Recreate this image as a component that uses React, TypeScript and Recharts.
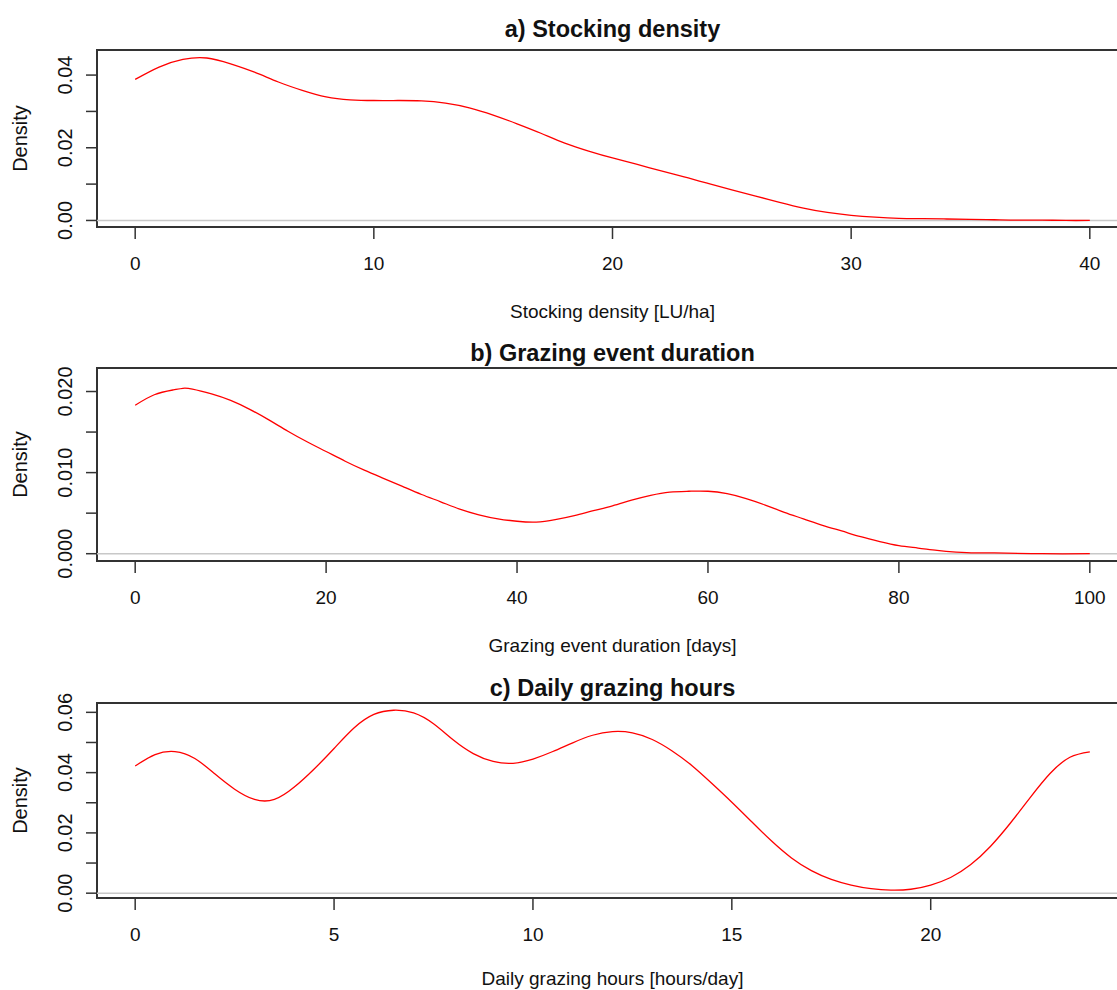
import React from "react";
import {
  LineChart,
  Line,
  XAxis,
  YAxis,
  ReferenceArea,
  ReferenceLine,
} from "recharts";

// a) Stocking density [LU/ha]
const stockX = [
  0, 1, 2, 3, 4, 5, 6, 7, 8, 9, 10, 11, 12, 13, 14, 15, 16, 17, 18, 19, 20,
  21, 22, 23, 24, 25, 26, 27, 28, 29, 30, 31, 32, 33, 34, 35, 36, 37, 38, 39, 40,
];
const stockD = [
  0.0388, 0.0422, 0.0443, 0.0447, 0.0431, 0.0408, 0.0381, 0.0358, 0.034,
  0.0332, 0.033, 0.033, 0.0329, 0.0323, 0.031, 0.029, 0.0266, 0.024, 0.0213,
  0.0191, 0.0172, 0.0155, 0.0137, 0.012, 0.0102, 0.0084, 0.0067, 0.005, 0.0034,
  0.0022, 0.0014, 0.0009, 0.0006, 0.0005, 0.0004, 0.0003, 0.0002, 0.0001,
  0.0001, 0.0, 0.0,
];

// b) Grazing event duration [days]
const durX = [
  0, 2, 4, 5, 6, 8, 10, 12, 14, 16, 18, 20, 22, 24, 26, 28, 30, 32, 34, 36, 38,
  40, 42, 44, 46, 48, 50, 52, 54, 56, 58, 60, 62, 64, 66, 68, 70, 72, 74, 76,
  78, 80, 82, 84, 86, 88, 90, 95, 100,
];
const durD = [
  0.0183, 0.0196, 0.0202, 0.0204, 0.0203, 0.0197, 0.0189, 0.0178, 0.0165,
  0.0151, 0.0138, 0.0126, 0.0114, 0.0103, 0.0093, 0.0083, 0.0073, 0.0064,
  0.0055, 0.0048, 0.0043, 0.004, 0.0039, 0.0042, 0.0047, 0.0053, 0.0059,
  0.0066, 0.0072, 0.0076, 0.0077, 0.0077, 0.0074, 0.0068, 0.006, 0.0051,
  0.0043, 0.0035, 0.0028, 0.0021, 0.0015, 0.001, 0.0007, 0.0004, 0.0002,
  0.0001, 0.0001, 0.0, 0.0,
];

// c) Daily grazing hours [hours/day]
const hoursX = [
  0, 0.5, 1, 1.5, 2, 2.5, 3, 3.5, 4, 4.5, 5, 5.5, 6, 6.5, 7, 7.5, 8, 8.5, 9,
  9.5, 10, 10.5, 11, 11.5, 12, 12.5, 13, 13.5, 14, 14.5, 15, 15.5, 16, 16.5,
  17, 17.5, 18, 18.5, 19, 19.5, 20, 20.5, 21, 21.5, 22, 22.5, 23, 23.5, 24,
];
const hoursD = [
  0.0422, 0.046, 0.047, 0.0447, 0.0396, 0.0345, 0.0311, 0.0311, 0.0352, 0.0412,
  0.048, 0.0548, 0.0593, 0.0607, 0.0598, 0.0562, 0.0508, 0.0463, 0.0437,
  0.0431, 0.0445, 0.047, 0.0499, 0.0524, 0.0536, 0.0532, 0.051, 0.0472,
  0.0423, 0.0364, 0.0302, 0.0237, 0.0173, 0.0117, 0.0075, 0.0046, 0.0027,
  0.0015, 0.001, 0.0013, 0.0027, 0.0052, 0.0094, 0.0155, 0.0232, 0.0317,
  0.0397, 0.0451, 0.0469,
];

const FONT = "'Liberation Sans', Arial, sans-serif";
const CHART_W = 1140;
const PLOT_LEFT = 97;
const PLOT_RIGHT = 1128;
const X_AXIS_H = 60;

type Panel = {
  title: string;
  xLabel: string;
  xs: number[];
  ds: number[];
  xDomain: [number, number];
  yDomain: [number, number];
  xTicks: number[];
  yTicks: number[];
  yLabels: Record<string, string>;
  chartTop: number;
  boxTop: number;
  boxBottom: number;
  titleY: number;
  xLabelY: number;
};

const panels: Panel[] = [
  {
    title: "a) Stocking density",
    xLabel: "Stocking density [LU/ha]",
    xs: stockX,
    ds: stockD,
    xDomain: [-1.6, 41.6],
    yDomain: [-0.0018, 0.0469],
    xTicks: [0, 10, 20, 30, 40],
    yTicks: [0, 0.01, 0.02, 0.03, 0.04],
    yLabels: { "0": "0.00", "0.02": "0.02", "0.04": "0.04" },
    chartTop: 0,
    boxTop: 50,
    boxBottom: 227,
    titleY: 37,
    xLabelY: 318,
  },
  {
    title: "b) Grazing event duration",
    xLabel: "Grazing event duration [days]",
    xs: durX,
    ds: durD,
    xDomain: [-4, 104],
    yDomain: [-0.0009, 0.0229],
    xTicks: [0, 20, 40, 60, 80, 100],
    yTicks: [0, 0.005, 0.01, 0.015, 0.02],
    yLabels: { "0": "0.000", "0.01": "0.010", "0.02": "0.020" },
    chartTop: 330,
    boxTop: 368,
    boxBottom: 561,
    titleY: 361,
    xLabelY: 652,
  },
  {
    title: "c) Daily grazing hours",
    xLabel: "Daily grazing hours [hours/day]",
    xs: hoursX,
    ds: hoursD,
    xDomain: [-0.96, 24.96],
    yDomain: [-0.0016, 0.0631],
    xTicks: [0, 5, 10, 15, 20],
    yTicks: [0, 0.01, 0.02, 0.03, 0.04, 0.05, 0.06],
    yLabels: { "0": "0.00", "0.02": "0.02", "0.04": "0.04", "0.06": "0.06" },
    chartTop: 660,
    boxTop: 703,
    boxBottom: 898,
    titleY: 696,
    xLabelY: 985,
  },
];

function DensityPanel({ p }: { p: Panel }) {
  const data = p.xs.map((x, i) => ({ x, d: p.ds[i] }));
  const height = p.boxBottom - p.chartTop + X_AXIS_H;
  const tickBase = p.boxBottom - p.chartTop + 43;

  const XTick = (props: any) => (
    <text
      x={props.x}
      y={tickBase}
      textAnchor="middle"
      fontFamily={FONT}
      fontSize={19}
      fill="#111"
    >
      {props.payload.value}
    </text>
  );

  const YTick = (props: any) => {
    const key = String(Math.round(props.payload.value * 1000) / 1000);
    const label = p.yLabels[key];
    if (!label) return <g />;
    return (
      <text
        x={72}
        y={props.y}
        transform={`rotate(-90, 72, ${props.y})`}
        textAnchor="middle"
        fontFamily={FONT}
        fontSize={20}
        fill="#111"
      >
        {label}
      </text>
    );
  };

  return (
    <div style={{ position: "absolute", left: 0, top: p.chartTop }}>
      <LineChart
        width={CHART_W}
        height={height}
        data={data}
        margin={{
          top: p.boxTop - p.chartTop,
          right: CHART_W - PLOT_RIGHT,
          bottom: 0,
          left: 0,
        }}
      >
        <XAxis
          dataKey="x"
          type="number"
          domain={p.xDomain}
          ticks={p.xTicks}
          allowDataOverflow
          height={X_AXIS_H}
          axisLine={false}
          tickSize={12}
          tickLine={{ stroke: "#333", strokeWidth: 1.5 }}
          tick={XTick}
          interval={0}
        />
        <YAxis
          type="number"
          domain={p.yDomain}
          ticks={p.yTicks}
          allowDataOverflow
          width={PLOT_LEFT}
          axisLine={false}
          tickSize={11}
          tickLine={{ stroke: "#333", strokeWidth: 1.5 }}
          tick={YTick}
          interval={0}
        />
        <ReferenceLine y={0} stroke="#c8c8c8" strokeWidth={1.5} />
        <Line
          dataKey="d"
          type="natural"
          stroke="#ff0000"
          strokeWidth={1.3}
          dot={false}
          isAnimationActive={false}
        />
        <ReferenceArea
          x1={p.xDomain[0]}
          x2={p.xDomain[1]}
          y1={p.yDomain[0]}
          y2={p.yDomain[1]}
          fill="none"
          stroke="#333"
          strokeWidth={2}
        />
      </LineChart>
    </div>
  );
}

export default function App() {
  const cx = (PLOT_LEFT + PLOT_RIGHT) / 2;
  return (
    <div
      style={{
        position: "absolute",
        left: 0,
        top: 0,
        width: 1117,
        height: 990,
        overflow: "hidden",
        background: "#fff",
      }}
    >
      {panels.map((p) => (
        <DensityPanel key={p.title} p={p} />
      ))}
      <svg
        width={1117}
        height={990}
        style={{ position: "absolute", left: 0, top: 0, pointerEvents: "none" }}
      >
        {panels.map((p) => {
          const midY = (p.boxTop + p.boxBottom) / 2;
          return (
            <g key={p.title} fontFamily={FONT} fill="#111">
              <text
                x={cx}
                y={p.titleY}
                textAnchor="middle"
                fontSize={23.5}
                fontWeight="bold"
              >
                {p.title}
              </text>
              <text x={cx} y={p.xLabelY} textAnchor="middle" fontSize={19}>
                {p.xLabel}
              </text>
              <text
                x={27}
                y={midY}
                transform={`rotate(-90, 27, ${midY})`}
                textAnchor="middle"
                fontSize={20}
              >
                Density
              </text>
            </g>
          );
        })}
      </svg>
    </div>
  );
}
